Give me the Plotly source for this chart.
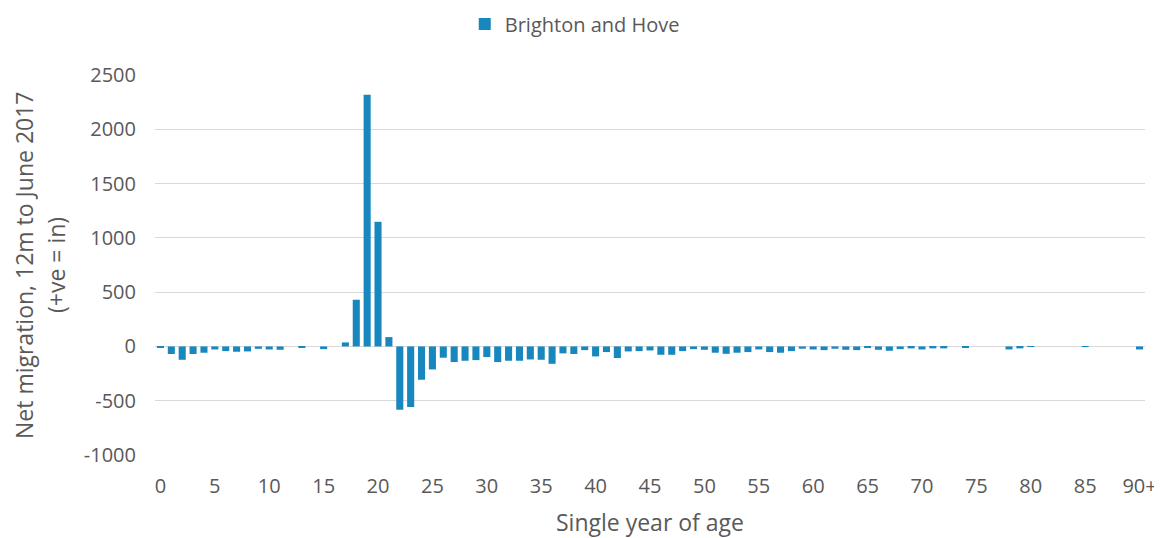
import plotly.graph_objects as go

ages = list(range(0, 91))
net_migration = [
    -12, -70, -123, -70, -58, -28, -43, -49, -46, -22,
    -28, -31, 0, -10, 0, -25, 0, 37, 430, 2317,
    1148, 86, -583, -558, -307, -212, -104, -144, -132, -126,
    -98, -144, -132, -132, -120, -123, -160, -64, -70, -34,
    -92, -52, -107, -46, -43, -37, -77, -77, -43, -25,
    -31, -58, -68, -58, -52, -28, -52, -58, -43, -21,
    -28, -34, -21, -31, -34, -15, -31, -40, -25, -18,
    -28, -18, -18, 0, -12, 0, 0, 0, -28, -18,
    -5, 0, 0, 0, 0, -5, 0, 0, 0, 0,
    -28,
]
tick_values = list(range(0, 91, 5))
tick_labels = [str(v) for v in range(0, 90, 5)] + ["90+"]
y_ticks = [-1000, -500, 0, 500, 1000, 1500, 2000, 2500]
y_tick_labels = ["-1000", "-500", "0", "500", "1000", "1500", "2000", "2500"]
series_name = "Brighton and Hove"
y_title_lines = ["Net migration, 12m to June 2017", "(+ve = in)"]
x_title = "Single year of age"

font_family = "Open Sans, Liberation Sans, sans-serif"
text_color = "#595959"
grid_color = "#d9d9d9"

fig = go.Figure()
fig.add_trace(go.Bar(
    x=ages, y=net_migration, name=series_name,
    marker=dict(color="#1887be", line=dict(width=0)),
    showlegend=True,
))

fig.update_layout(
    width=1154, height=530,
    paper_bgcolor="white", plot_bgcolor="white",
    margin=dict(l=147, r=17, t=67, b=83, autoexpand=False),
    bargap=0.35,
    font=dict(family=font_family, color=text_color, size=20),
    legend=dict(orientation="h", x=0.424, xanchor="center", y=1.134, yanchor="middle",
                font=dict(size=20, color=text_color), itemwidth=30),
    xaxis=dict(
        range=[-0.5, 90.5], tickmode="array", tickvals=tick_values, ticktext=tick_labels,
        showgrid=False, zeroline=False, showline=False, ticks="", automargin=False,
        ticklabelstandoff=17,
        tickfont=dict(size=20, color=text_color),
        title=dict(text=x_title, font=dict(size=23, color=text_color), standoff=20),
    ),
    yaxis=dict(
        range=[-1000, 2500], tickmode="array", tickvals=y_ticks, ticktext=y_tick_labels,
        showgrid=True, gridcolor=grid_color, gridwidth=1,
        zeroline=True, zerolinecolor=grid_color, zerolinewidth=1,
        showline=False, ticks="", ticklen=0, automargin=False, ticklabelstandoff=18,
        tickfont=dict(size=20, color=text_color),
    ),
)

for line, xpos in zip(y_title_lines, [-0.1323, -0.1]):
    fig.add_annotation(
        text=line, xref="paper", yref="paper", x=xpos, y=0.5,
        xanchor="center", yanchor="middle", textangle=-90, showarrow=False,
        font=dict(size=23, color=text_color, family=font_family),
    )

fig.write_html("out.html")
